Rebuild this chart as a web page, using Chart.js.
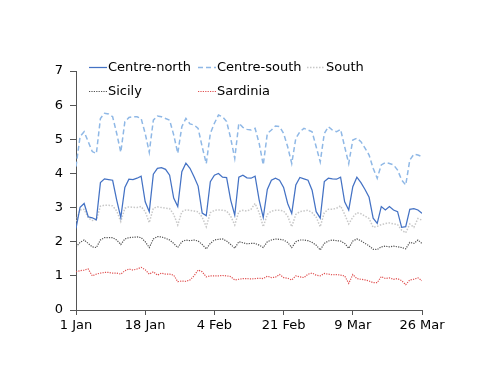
<!DOCTYPE html>
<html lang="en">
<head>
<meta charset="UTF-8">
<title>Daily demand by zone</title>
<script src="https://cdn.jsdelivr.net/npm/chart.js"></script>
<style>
    body { margin: 0; background: #fff; }
    #wrap { width: 500px; height: 386px; }
</style>
</head>
<body>
<div id="wrap"><canvas id="myChart"></canvas></div>
<script>
// one value per day, 1 Jan .. 26 Mar
const tickLabels = ['1 Jan', '18 Jan', '4 Feb', '21 Feb', '9 Mar', '26 Mar'];
const seriesNames = ['Centre-north', 'Centre-south', 'South', 'Sicily', 'Sardinia'];

const centreNorth = [2.39, 3.01, 3.12, 2.73, 2.70, 2.64, 3.73, 3.84, 3.82, 3.80,
    3.22, 2.71, 3.59, 3.83, 3.82, 3.86, 3.92, 3.17, 2.88, 3.98,
    4.15, 4.17, 4.12, 3.95, 3.28, 3.03, 4.05, 4.30, 4.15, 3.90,
    3.63, 2.84, 2.76, 3.76, 3.95, 4.00, 3.89, 3.88, 3.22, 2.78,
    3.89, 3.95, 3.87, 3.86, 3.92, 3.22, 2.71, 3.53, 3.80, 3.86,
    3.80, 3.59, 3.12, 2.83, 3.66, 3.88, 3.84, 3.80, 3.51, 2.88,
    2.69, 3.76, 3.86, 3.84, 3.83, 3.89, 3.17, 2.93, 3.61, 3.89,
    3.73, 3.53, 3.30, 2.69, 2.54, 3.03, 2.93, 3.03, 2.93, 2.88,
    2.42, 2.44, 2.95, 2.97, 2.93, 2.83];

const centreSouth = [4.20, 5.08, 5.22, 4.93, 4.64, 4.58, 5.61, 5.76, 5.74, 5.66,
    5.17, 4.62, 5.51, 5.64, 5.66, 5.66, 5.61, 5.17, 4.62, 5.56,
    5.68, 5.66, 5.61, 5.56, 5.13, 4.59, 5.37, 5.61, 5.45, 5.42,
    5.32, 4.78, 4.29, 5.17, 5.47, 5.71, 5.66, 5.52, 5.03, 4.44,
    5.47, 5.35, 5.29, 5.27, 5.32, 4.88, 4.25, 5.17, 5.27, 5.39,
    5.37, 5.17, 4.78, 4.29, 5.03, 5.22, 5.32, 5.27, 5.22, 4.78,
    4.34, 5.17, 5.37, 5.27, 5.22, 5.29, 4.78, 4.29, 4.98, 5.03,
    4.93, 4.74, 4.54, 4.15, 3.86, 4.25, 4.32, 4.29, 4.25, 4.10,
    3.81, 3.66, 4.39, 4.56, 4.54, 4.49];

const south = [2.60, 2.93, 2.95, 2.70, 2.62, 2.64, 3.04, 3.07, 3.07, 3.05,
    2.90, 2.59, 2.98, 3.02, 3.01, 3.00, 3.03, 2.88, 2.56, 2.98,
    3.02, 3.00, 2.98, 2.97, 2.80, 2.49, 2.88, 2.93, 2.92, 2.90,
    2.88, 2.72, 2.44, 2.85, 2.92, 2.93, 2.92, 2.90, 2.75, 2.49,
    2.88, 2.92, 2.90, 2.95, 3.12, 2.85, 2.44, 2.80, 2.90, 2.92,
    2.92, 2.90, 2.75, 2.44, 2.80, 2.88, 2.90, 2.92, 2.85, 2.72,
    2.44, 2.85, 2.95, 2.95, 2.98, 3.05, 2.80, 2.52, 2.72, 2.85,
    2.82, 2.75, 2.68, 2.42, 2.45, 2.50, 2.53, 2.55, 2.52, 2.50,
    2.34, 2.26, 2.52, 2.42, 2.68, 2.63];

const sicily = [1.85, 1.98, 2.05, 1.95, 1.85, 1.83, 2.05, 2.12, 2.12, 2.12,
    2.05, 1.92, 2.08, 2.12, 2.13, 2.14, 2.12, 2.00, 1.83, 2.08,
    2.15, 2.14, 2.10, 2.05, 1.95, 1.83, 2.00, 2.05, 2.03, 2.05,
    2.02, 1.92, 1.79, 1.95, 2.05, 2.07, 2.08, 2.02, 1.92, 1.81,
    2.00, 1.97, 1.94, 1.95, 1.95, 1.90, 1.83, 2.00, 2.05, 2.08,
    2.07, 2.05, 1.98, 1.83, 2.00, 2.05, 2.05, 2.03, 1.98, 1.90,
    1.76, 1.95, 2.02, 2.05, 2.03, 2.02, 1.95, 1.81, 2.02, 2.08,
    2.03, 1.95, 1.88, 1.78, 1.77, 1.85, 1.87, 1.85, 1.87, 1.85,
    1.83, 1.79, 1.98, 1.95, 2.05, 1.95];

const sardinia = [1.12, 1.15, 1.17, 1.20, 1.00, 1.05, 1.08, 1.10, 1.10, 1.08,
    1.08, 1.05, 1.15, 1.20, 1.17, 1.20, 1.25, 1.18, 1.05, 1.12,
    1.02, 1.08, 1.05, 1.05, 1.02, 0.83, 0.85, 0.84, 0.88, 1.00,
    1.17, 1.12, 0.97, 1.00, 1.00, 1.00, 1.01, 1.00, 0.98, 0.88,
    0.90, 0.92, 0.92, 0.91, 0.92, 0.93, 0.92, 0.99, 0.95, 0.96,
    1.04, 0.95, 0.93, 0.88, 1.00, 0.97, 0.95, 1.05, 1.08, 1.02,
    1.00, 1.07, 1.05, 1.03, 1.04, 1.02, 1.00, 0.78, 1.04, 0.92,
    0.90, 0.88, 0.85, 0.80, 0.80, 0.98, 0.92, 0.94, 0.90, 0.92,
    0.86, 0.74, 0.88, 0.90, 0.94, 0.86];

const tickStep = 17;
const FONT = '"DejaVu Sans", Verdana, sans-serif';

function points(values) {
    return values.map((v, i) => ({ x: i, y: v }));
}

// legend drawn in a 3-column grid over the plot, like the original
const gridLegend = {
    id: 'gridLegend',
    afterDraw(chart) {
        const ctx = chart.ctx;
        const cols = [89, 198, 307];
        const rows = [67, 91];
        ctx.save();
        ctx.font = '13px ' + FONT;
        ctx.textBaseline = 'middle';
        ctx.fillStyle = '#000';
        chart.data.datasets.forEach((ds, k) => {
            const x = cols[k % 3];
            const y = rows[Math.floor(k / 3)];
            ctx.beginPath();
            ctx.strokeStyle = ds.borderColor;
            ctx.lineWidth = ds.borderWidth;
            ctx.setLineDash(ds.borderDash || []);
            ctx.moveTo(x, y + 0.5);
            ctx.lineTo(x + 18, y + 0.5);
            ctx.stroke();
            ctx.setLineDash([]);
            ctx.fillText(ds.label, x + 19, y + 1);
        });
        ctx.restore();
    }
};

const ctx = document.getElementById('myChart').getContext('2d');
new Chart(ctx, {
    type: 'line',
    data: {
        datasets: [
            { label: seriesNames[0], data: points(centreNorth), borderColor: '#4472C4', borderWidth: 1.25 },
            { label: seriesNames[1], data: points(centreSouth), borderColor: '#8FB8E6', borderWidth: 1.5, borderDash: [5, 3] },
            { label: seriesNames[2], data: points(south), borderColor: '#C8C8C8', borderWidth: 1.5, borderDash: [1.5, 1.5] },
            { label: seriesNames[3], data: points(sicily), borderColor: '#505050', borderWidth: 1.2, borderDash: [1.2, 1.2] },
            { label: seriesNames[4], data: points(sardinia), borderColor: '#E05050', borderWidth: 1.2, borderDash: [1.2, 1.2] }
        ]
    },
    options: {
        responsive: true,
        maintainAspectRatio: false,
        animation: false,
        elements: { point: { radius: 0 }, line: { tension: 0, fill: false } },
        layout: { padding: { left: 0, right: 78, top: 71, bottom: 0 } },
        plugins: {
            legend: { display: false },
            tooltip: { enabled: false }
        },
        scales: {
            x: {
                type: 'linear',
                min: 0,
                max: (tickLabels.length - 1) * tickStep,
                afterFit(s) { s.height = 76; },
                border: { display: true, color: '#555', width: 1 },
                grid: { display: true, drawOnChartArea: false, color: '#555', tickLength: 5 },
                ticks: {
                    stepSize: tickStep,
                    autoSkip: false,
                    maxRotation: 0,
                    padding: 3,
                    color: '#000',
                    font: { family: FONT, size: 13 },
                    callback: (v) => tickLabels[Math.round(v / tickStep)]
                }
            },
            y: {
                min: 0,
                max: 7,
                afterFit(s) { s.width = 76; },
                border: { display: true, color: '#555', width: 1 },
                grid: { display: true, drawOnChartArea: false, color: '#555', tickLength: 6 },
                ticks: {
                    stepSize: 1,
                    padding: 7,
                    color: '#000',
                    font: { family: FONT, size: 13 }
                }
            }
        }
    },
    plugins: [gridLegend]
});
</script>
</body>
</html>
